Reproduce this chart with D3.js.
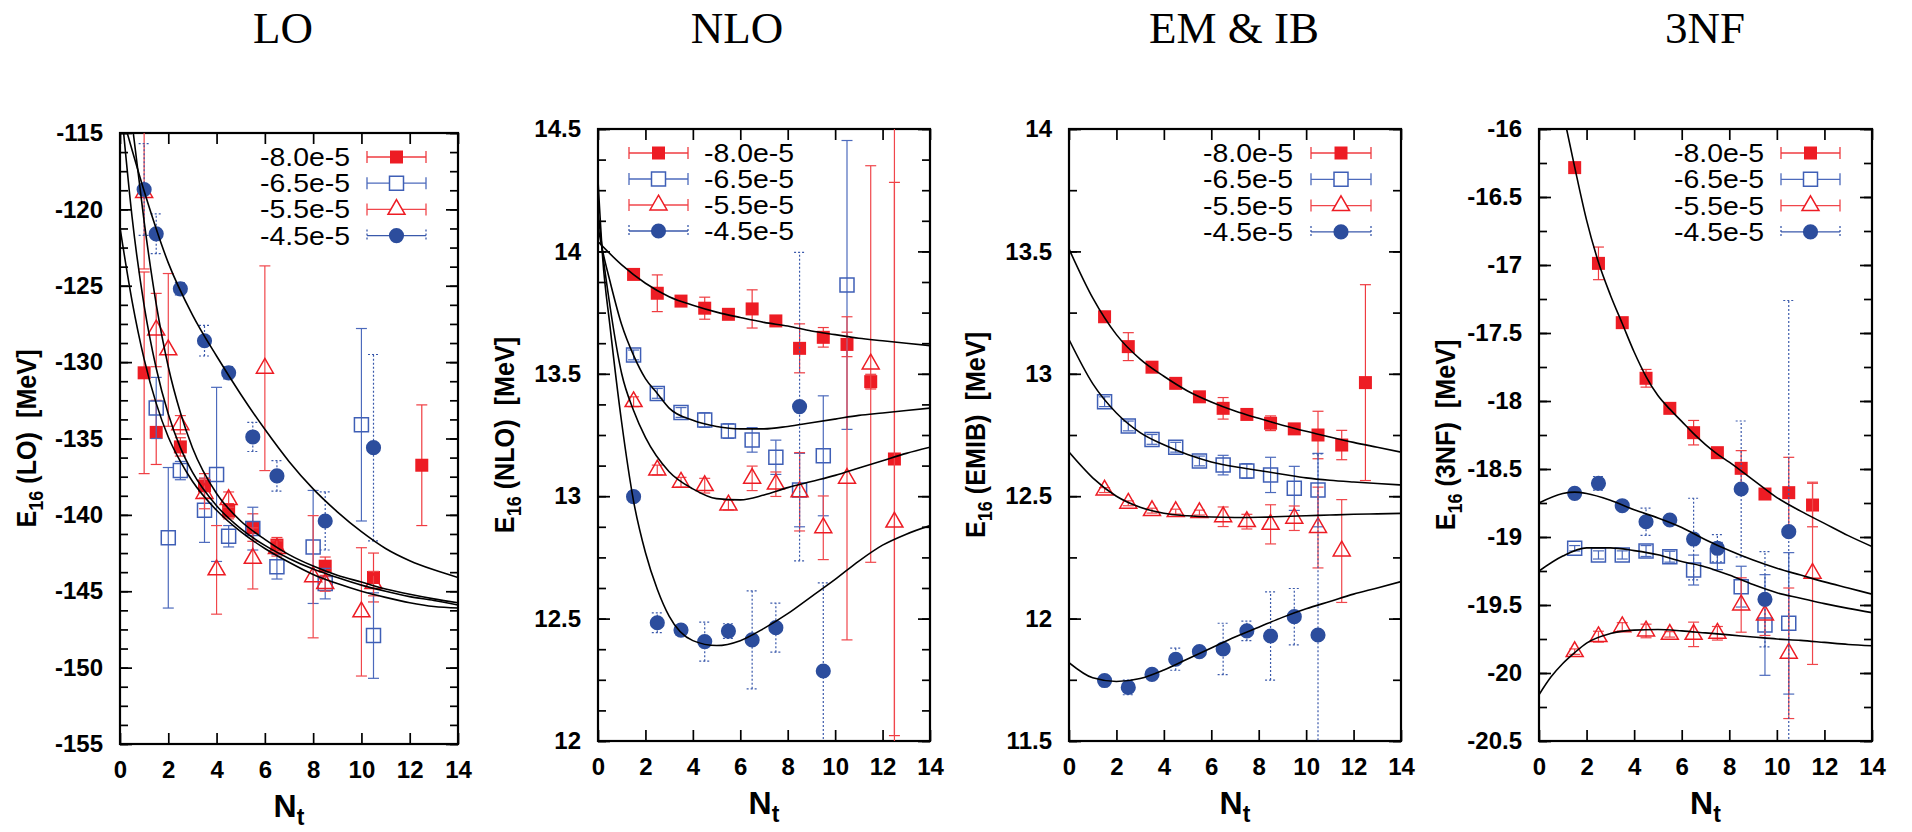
<!DOCTYPE html>
<html>
<head>
<meta charset="utf-8">
<script src="https://cdn.jsdelivr.net/npm/d3@7"></script>
<style>
    body { margin: 0; background: #fff; }
    svg { display: block; }
    text { white-space: pre; }
</style>
</head>
<body>
<div id="chart"></div>
<script>
// ---- data: [Nt, E16, error] ----
const legendLabels = ['-8.0e-5', '-6.5e-5', '-5.5e-5', '-4.5e-5'];
const panelTitles = ['LO', 'NLO', 'EM & IB', '3NF'];
const panelKeys = ['LO', 'NLO', 'EMIB', '3NF'];
const xTicks = [0, 2, 4, 6, 8, 10, 12, 14];
const loTicks = [-115, -120, -125, -130, -135, -140, -145, -150, -155];
const nloTicks = [14.5, 14, 13.5, 13, 12.5, 12];
const emTicks = [14, 13.5, 13, 12.5, 12, 11.5];
const tnTicks = [-16, -16.5, -17, -17.5, -18, -18.5, -19, -19.5, -20, -20.5];

// LO
const loSq80 = [[1.0,-130.7,6.6],[1.5,-134.6,2.1],[2.5,-135.55,0.6],[3.5,-138.1,0.8],[4.5,-139.76,0.5],[5.5,-140.83,0.9],[6.5,-141.98,0.5],[8.5,-143.36,0.6],[10.5,-144.1,1.6],[12.5,-136.75,3.95]];
const loSq65 = [[1.5,-133.0,2.0],[2.0,-141.5,4.6],[2.5,-137.1,0.6],[3.5,-139.7,2.1],[4.0,-137.35,5.7],[4.5,-141.4,0.7],[5.5,-140.9,1.4],[6.5,-143.4,0.8],[8.0,-142.1,3.7],[8.5,-144.5,1.0],[10.0,-134.1,6.3],[10.5,-147.9,2.8]];
const loTr55 = [[1.0,-118.9,5.0],[1.5,-127.9,2.4],[2.0,-129.2,5.0],[2.5,-134.1,0.6],[3.5,-138.6,1.0],[4.0,-143.6,2.9],[4.5,-139.0,0.5],[5.5,-142.85,2.0],[6.0,-130.4,6.7],[6.5,-142.2,0.5],[8.0,-144.05,4.0],[8.5,-144.5,0.5],[10.0,-146.35,4.2],[10.5,-144.5,0.8]];
const loCi45 = [[1.0,-118.7,3.0],[1.5,-121.6,1.3],[2.5,-125.2,0.4],[3.5,-128.6,1.0],[4.5,-130.7,0.4],[5.5,-134.9,0.95],[6.5,-137.45,1.0],[8.5,-140.4,1.9],[10.5,-135.6,6.1]];
const loFit1 = [[0.3,-115],[1,-118.8],[2,-123.5],[3,-126.9],[4,-129.6],[5,-132.1],[6,-134.4],[7,-136.5],[8,-138.3],[9,-139.8],[10,-141.1],[11,-142.2],[12,-143.0],[13,-143.6],[14,-144.1]];
const loFit2 = [[0,-121.2],[0.5,-126.0],[1,-129.8],[1.5,-132.7],[2,-134.9],[2.5,-136.5],[3,-137.8],[4,-139.7],[5,-141.1],[6,-142.2],[7,-143.1],[8,-143.9],[9,-144.5],[10,-145.0],[11,-145.4],[12,-145.75],[13,-146.0],[14,-146.1]];
const loFit3 = [[0.15,-115],[0.5,-120.5],[1,-126.3],[1.5,-130.4],[2,-133.4],[2.5,-135.6],[3,-137.2],[4,-139.4],[5,-140.9],[6,-142.0],[7,-142.85],[8,-143.55],[9,-144.1],[10,-144.6],[11,-145.0],[12,-145.35],[13,-145.6],[14,-145.9]];
const loFit4 = [[0.55,-115],[1,-120.8],[1.5,-126.2],[2,-130.3],[2.5,-133.3],[3,-135.6],[4,-138.6],[5,-140.4],[6,-141.6],[7,-142.6],[8,-143.35],[9,-143.95],[10,-144.4],[11,-144.85],[12,-145.2],[13,-145.5],[14,-145.75]];

// NLO
const nloSq80 = [[1.5,13.906,0.02],[2.5,13.829,0.075],[3.5,13.797,0.02],[4.5,13.768,0.045],[5.5,13.743,0.02],[6.5,13.765,0.078],[7.5,13.716,0.02],[8.5,13.604,0.1],[9.5,13.649,0.04],[10.5,13.62,0.05],[11.5,13.468,0.03],[12.5,13.152,1.13]];
const nloSq65 = [[1.5,13.577,0.02],[2.5,13.42,0.02],[3.5,13.342,0.02],[4.5,13.311,0.03],[5.5,13.266,0.03],[6.5,13.23,0.05],[7.5,13.159,0.07],[8.5,13.025,0.15],[9.5,13.165,0.245],[10.5,13.863,0.59]];
const nloTr55 = [[1.5,13.386,0.02],[2.5,13.107,0.02],[3.5,13.057,0.02],[4.5,13.043,0.03],[5.5,12.964,0.02],[6.5,13.073,0.05],[7.5,13.049,0.05],[8.5,13.018,0.16],[9.5,12.871,0.13],[10.5,13.073,0.66],[11.5,13.54,0.81],[12.5,12.894,1.7]];
const nloCi45 = [[1.5,12.998,0.02],[2.5,12.483,0.04],[3.5,12.453,0.02],[4.5,12.406,0.08],[5.5,12.449,0.03],[6.5,12.413,0.2],[7.5,12.463,0.1],[8.5,13.366,0.63],[9.5,12.286,0.36]];
const nloFit1 = [[0,14.04],[1,13.945],[2,13.87],[3,13.815],[4,13.78],[5,13.752],[6,13.73],[7,13.71],[8,13.695],[9,13.675],[10,13.66],[11,13.645],[12,13.635],[13,13.625],[14,13.615]];
const nloFit2 = [[0,14.1],[0.2,14.0],[0.5,13.88],[1,13.7],[1.5,13.575],[2,13.48],[2.5,13.42],[3,13.36],[4,13.31],[5,13.285],[6,13.275],[7,13.275],[8,13.285],[9,13.3],[10,13.315],[11,13.33],[12,13.34],[13,13.35],[14,13.36]];
const nloFit3 = [[0,14.16],[0.2,13.99],[0.5,13.78],[1,13.5],[1.5,13.35],[2,13.24],[3,13.1],[4,13.03],[5,12.99],[6,12.985],[7,13.005],[8,13.035],[9,13.06],[10,13.085],[11,13.115],[12,13.145],[13,13.175],[14,13.2]];
const nloFit4 = [[0,14.29],[0.2,13.97],[0.5,13.7],[1,13.3],[1.5,12.98],[2,12.77],[2.5,12.62],[3,12.51],[4,12.41],[5,12.39],[6,12.41],[7,12.46],[8,12.52],[9,12.59],[10,12.66],[11,12.735],[12,12.8],[13,12.845],[14,12.88]];

// EM & IB
const emSq80 = [[1.5,13.233,0.02],[2.5,13.111,0.057],[3.5,13.027,0.02],[4.5,12.961,0.02],[5.5,12.906,0.02],[6.5,12.859,0.044],[7.5,12.834,0.02],[8.5,12.798,0.03],[9.5,12.775,0.02],[10.5,12.75,0.097],[11.5,12.709,0.06],[12.5,12.964,0.4]];
const emSq65 = [[1.5,12.886,0.02],[2.5,12.787,0.02],[3.5,12.732,0.02],[4.5,12.7,0.02],[5.5,12.644,0.02],[6.5,12.627,0.04],[7.5,12.603,0.03],[8.5,12.587,0.072],[9.5,12.532,0.09],[10.5,12.525,0.15]];
const emTr55 = [[1.5,12.525,0.01],[2.5,12.471,0.01],[3.5,12.441,0.01],[4.5,12.437,0.01],[5.5,12.433,0.01],[6.5,12.416,0.04],[7.5,12.396,0.03],[8.5,12.385,0.08],[9.5,12.41,0.05],[10.5,12.372,0.165],[11.5,12.276,0.21]];
const emCi45 = [[1.5,11.747,0.01],[2.5,11.719,0.03],[3.5,11.772,0.01],[4.5,11.834,0.045],[5.5,11.865,0.01],[6.5,11.876,0.105],[7.5,11.95,0.04],[8.5,11.929,0.18],[9.5,12.008,0.115],[10.5,11.933,0.74]];
const emFit1 = [[0,13.51],[1,13.31],[2,13.16],[3,13.06],[4,12.99],[5,12.93],[6,12.885],[7,12.848],[8,12.818],[9,12.79],[10,12.765],[11,12.742],[12,12.72],[13,12.7],[14,12.68]];
const emFit2 = [[0,13.14],[1,12.96],[2,12.84],[3,12.76],[4,12.71],[5,12.67],[6,12.64],[7,12.62],[8,12.605],[9,12.59],[10,12.575],[11,12.565],[12,12.558],[13,12.552],[14,12.546]];
const emFit3 = [[0,12.68],[1,12.575],[2,12.5],[3,12.455],[4,12.43],[5,12.42],[6,12.415],[7,12.413],[8,12.414],[9,12.417],[10,12.42],[11,12.423],[12,12.426],[13,12.428],[14,12.43]];
const emFit4 = [[0,11.82],[1,11.758],[2,11.743],[3,11.755],[4,11.79],[5,11.835],[6,11.88],[7,11.925],[8,11.965],[9,12.005],[10,12.04],[11,12.07],[12,12.1],[13,12.125],[14,12.151]];

// 3NF
const tnSq80 = [[1.5,-16.284,0.03],[2.5,-16.988,0.12],[3.5,-17.424,0.02],[4.5,-17.833,0.065],[5.5,-18.054,0.02],[6.5,-18.233,0.09],[7.5,-18.38,0.02],[8.5,-18.495,0.13],[9.5,-18.684,0.03],[10.5,-18.674,0.26],[11.5,-18.765,0.16]];
const tnSq65 = [[1.5,-19.083,0.02],[2.5,-19.132,0.03],[3.5,-19.132,0.03],[4.5,-19.103,0.04],[5.5,-19.145,0.04],[6.5,-19.243,0.11],[7.5,-19.14,0.1],[8.5,-19.365,0.15],[9.5,-19.647,0.37],[10.5,-19.635,0.52]];
const tnTr55 = [[1.5,-19.843,0.02],[2.5,-19.733,0.04],[3.5,-19.66,0.03],[4.5,-19.691,0.05],[5.5,-19.716,0.02],[6.5,-19.716,0.09],[7.5,-19.708,0.05],[8.5,-19.5,0.2],[9.5,-19.574,0.15],[10.5,-19.855,0.48],[11.5,-19.267,0.67]];
const tnCi45 = [[1.5,-18.679,0.02],[2.5,-18.605,0.05],[3.5,-18.77,0.02],[4.5,-18.888,0.1],[5.5,-18.875,0.02],[6.5,-19.015,0.3],[7.5,-19.083,0.1],[8.5,-18.647,0.5],[9.5,-19.458,0.35],[10.5,-18.961,1.7]];
const tnFit1 = [[1.16,-16.0],[1.5,-16.28],[2,-16.67],[2.5,-16.98],[3,-17.22],[3.5,-17.43],[4,-17.64],[4.5,-17.82],[5,-17.96],[5.5,-18.06],[6,-18.15],[6.5,-18.24],[7,-18.32],[7.5,-18.39],[8,-18.45],[9,-18.58],[10,-18.71],[11,-18.81],[12,-18.9],[13,-18.99],[14,-19.07]];
const tnFit2 = [[0,-18.75],[1,-18.68],[1.5,-18.67],[2,-18.68],[3,-18.73],[4,-18.8],[5,-18.86],[6,-18.93],[7,-19.02],[8,-19.1],[9,-19.17],[10,-19.23],[11,-19.28],[12,-19.33],[13,-19.375],[14,-19.42]];
const tnFit3 = [[0,-19.25],[1,-19.14],[2,-19.08],[3,-19.08],[4,-19.1],[5,-19.13],[6,-19.18],[7,-19.22],[8,-19.28],[9,-19.35],[10,-19.41],[11,-19.45],[12,-19.49],[13,-19.525],[14,-19.556]];
const tnFit4 = [[0,-20.16],[0.5,-20.03],[1,-19.93],[1.5,-19.85],[2,-19.78],[3,-19.71],[4,-19.685],[5,-19.68],[6,-19.69],[7,-19.705],[8,-19.72],[9,-19.735],[10,-19.75],[11,-19.76],[12,-19.775],[13,-19.79],[14,-19.8]];

// ---- styles, one per series (legend order) ----
const RED = '#ed1c24', BLUE = '#2c4d9d';
const seriesStyle = [
    { symbol: d3.symbolSquare,   size: 169, fill: RED,  stroke: 'none',    bar: '#ef3b40', dash: null },
    { symbol: d3.symbolSquare,   size: 196, fill: 'none', stroke: '#3f5fb6', bar: '#4c6abc', dash: null },
    { symbol: d3.symbolTriangle, size: 125, fill: 'none', stroke: RED,    bar: '#f0464b', dash: null },
    { symbol: d3.symbolCircle,   size: 180, fill: BLUE, stroke: 'none',    bar: '#3a59ab', dash: '2,2' }
];
const SANS = "'Liberation Sans', Arial, Helvetica, sans-serif";

// ---- layout, per panel ----
const panels = [
    { box: { l: 120,  t: 133, r: 458,  b: 744 }, titleX: 283,  yDomain: [-155, -115], yTicks: loTicks,  yMinor: 1.25,
      series: [loSq80, loSq65, loTr55, loCi45], fits: [loFit1, loFit2, loFit3, loFit4],
      legend: { anchor: 'end', textX: 350, lineX: [367, 426], y0: 157, step: 26.2 } },
    { box: { l: 598,  t: 129, r: 930,  b: 741 }, titleX: 737,  yDomain: [12, 14.5], yTicks: nloTicks, yMinor: 0.125,
      series: [nloSq80, nloSq65, nloTr55, nloCi45], fits: [nloFit1, nloFit2, nloFit3, nloFit4],
      legend: { anchor: 'start', textX: 704, lineX: [629, 688], y0: 153, step: 26 } },
    { box: { l: 1069, t: 129, r: 1401, b: 741 }, titleX: 1234, yDomain: [11.5, 14], yTicks: emTicks,  yMinor: 0.25,
      series: [emSq80, emSq65, emTr55, emCi45], fits: [emFit1, emFit2, emFit3, emFit4],
      legend: { anchor: 'end', textX: 1293, lineX: [1311, 1371], y0: 153, step: 26.3 } },
    { box: { l: 1539, t: 129, r: 1872, b: 741 }, titleX: 1705, yDomain: [-20.5, -16], yTicks: tnTicks, yMinor: 0.25,
      series: [tnSq80, tnSq65, tnTr55, tnCi45], fits: [tnFit1, tnFit2, tnFit3, tnFit4],
      legend: { anchor: 'end', textX: 1764, lineX: [1781, 1840], y0: 153, step: 26.3 } }
];

class EnergyPanel
{
    // Attributes
    box; svg; chart; scaleX; scaleY; id;

    constructor(svg, box, id) {
        this.svg = svg;
        this.box = box;
        this.id = id;
        this.chart = svg.append('g')
            .attr('transform', `translate(${box.l}, ${box.t})`);
        // clip data to the frame, like gnuplot does
        svg.append('clipPath').attr('id', `clip${id}`)
            .append('rect')
            .attr('x', box.l).attr('y', box.t)
            .attr('width', box.r - box.l).attr('height', box.b - box.t);
    }

    #updateScales(yDomain) {
        this.scaleX = d3.scaleLinear([0, 14], [0, this.box.r - this.box.l]);
        this.scaleY = d3.scaleLinear(yDomain, [this.box.b - this.box.t, 0]);
    }

    #updateAxes(cfg) {
        let w = this.box.r - this.box.l,
            h = this.box.b - this.box.t;
        let minor = d3.range(cfg.yDomain[0], cfg.yDomain[1] + 1e-9, cfg.yMinor);
        let style = g => {
            g.select('.domain').remove();
            g.selectAll('line').attr('stroke-width', 1.7);
            g.selectAll('text')
                .attr('font-family', SANS).attr('font-size', 24).attr('font-weight', 'bold').attr('fill', '#000');
        };
        let fmt = d => String(d);   // plain hyphen minus

        this.chart.append('g').call(d3.axisLeft(this.scaleY).tickValues(minor).tickSize(-8).tickFormat('')).call(style);
        this.chart.append('g').call(d3.axisLeft(this.scaleY).tickValues(cfg.yTicks).tickSize(-12).tickPadding(17).tickFormat(fmt)).call(style);
        this.chart.append('g').attr('transform', `translate(${w},0)`)
            .call(d3.axisRight(this.scaleY).tickValues(minor).tickSize(-8).tickFormat('')).call(style);
        this.chart.append('g').attr('transform', `translate(${w},0)`)
            .call(d3.axisRight(this.scaleY).tickValues(cfg.yTicks).tickSize(-12).tickFormat('')).call(style);
        this.chart.append('g').attr('transform', `translate(0,${h})`)
            .call(d3.axisBottom(this.scaleX).tickValues(xTicks).tickSize(-11).tickPadding(17).tickFormat(fmt)).call(style);
        this.chart.append('g')
            .call(d3.axisTop(this.scaleX).tickValues(xTicks).tickSize(-11).tickFormat('')).call(style);

        // frame
        this.chart.append('rect')
            .attr('width', w).attr('height', h)
            .attr('fill', 'none').attr('stroke', '#000').attr('stroke-width', 2.2);
    }

    #updateData(cfg) {
        let sx = this.scaleX, sy = this.scaleY;
        let plot = this.svg.append('g')
            .attr('clip-path', `url(#clip${this.id})`)
            .append('g')
            .attr('transform', `translate(${this.box.l}, ${this.box.t})`);

        cfg.series.forEach((data, i) => {
            let st = seriesStyle[i];
            let g = plot.append('g');
            // error bars
            let bars = g.selectAll('g.err').data(data).join('g').classed('err', true)
                .attr('stroke', st.bar).attr('stroke-width', 1.2)
                .attr('stroke-dasharray', st.dash);
            bars.append('line')
                .attr('x1', d => sx(d[0])).attr('x2', d => sx(d[0]))
                .attr('y1', d => sy(d[1] - d[2])).attr('y2', d => sy(d[1] + d[2]));
            [-1, 1].forEach(s => bars.append('line')
                .attr('x1', d => sx(d[0]) - 5.5).attr('x2', d => sx(d[0]) + 5.5)
                .attr('y1', d => sy(d[1] + s * d[2])).attr('y2', d => sy(d[1] + s * d[2]))
                .attr('stroke-dasharray', null));
            // markers
            g.selectAll('path.pt').data(data).join('path').classed('pt', true)
                .attr('transform', d => `translate(${sx(d[0])}, ${sy(d[1])})`)
                .attr('d', d3.symbol(st.symbol, st.size)())
                .attr('fill', st.fill).attr('stroke', st.stroke).attr('stroke-width', 1.5);
        });

        // fit curves
        let line = d3.line().x(d => sx(d[0])).y(d => sy(d[1])).curve(d3.curveMonotoneX);
        plot.selectAll('path.fit').data(cfg.fits).join('path').classed('fit', true)
            .attr('d', line)
            .attr('fill', 'none').attr('stroke', '#000').attr('stroke-width', 1.6);
    }

    #updateLegend(lg) {
        legendLabels.forEach((label, i) => {
            let st = seriesStyle[i];
            let y = lg.y0 + i * lg.step;
            let g = this.svg.append('g');
            g.append('text')
                .attr('x', lg.textX).attr('y', y + 9)
                .attr('text-anchor', lg.anchor)
                .attr('font-family', SANS).attr('font-size', 25)
                .attr('textLength', 90).attr('lengthAdjust', 'spacingAndGlyphs')
                .text(label);
            let [x0, x1] = lg.lineX;
            g.append('line').attr('x1', x0).attr('x2', x1).attr('y1', y).attr('y2', y)
                .attr('stroke', st.bar).attr('stroke-width', 1.3);
            [x0, x1].forEach(x => g.append('line')
                .attr('x1', x).attr('x2', x).attr('y1', y - 6).attr('y2', y + 6)
                .attr('stroke', st.bar).attr('stroke-width', 1.3).attr('stroke-dasharray', st.dash));
            g.append('path')
                .attr('transform', `translate(${(x0 + x1) / 2}, ${y})`)
                .attr('d', d3.symbol(st.symbol, st.size)())
                .attr('fill', st.fill === 'none' ? '#fff' : st.fill)
                .attr('stroke', st.stroke).attr('stroke-width', 1.5);
        });
    }

    #updateLabels(title, key, titleX) {
        let b = this.box;
        this.svg.append('text')
            .attr('x', titleX).attr('y', 43)
            .attr('text-anchor', 'middle')
            .attr('font-family', "'Liberation Serif', 'Times New Roman', serif").attr('font-size', 45)
            .text(title);

        // rotated y label, squeezed a little along its length
        let yl = this.svg.append('text')
            .attr('transform', `translate(${b.l - 84}, ${(b.t + b.b) / 2}) rotate(-90) scale(0.9, 1)`)
            .attr('text-anchor', 'middle')
            .attr('font-family', SANS).attr('font-size', 28).attr('font-weight', 'bold');
        yl.append('tspan').text('E');
        yl.append('tspan').attr('dy', 7).attr('font-size', 20).text('16');
        yl.append('tspan').attr('dy', -7).text(` (${key})  [MeV]`);

        let xl = this.svg.append('text')
            .attr('x', (b.l + b.r) / 2).attr('y', b.b + 73)
            .attr('text-anchor', 'middle')
            .attr('font-family', SANS).attr('font-size', 32).attr('font-weight', 'bold');
        xl.append('tspan').text('N');
        xl.append('tspan').attr('dy', 8).attr('font-size', 23).text('t');
    }

    // Public API
    render(cfg, title, key) {
        this.#updateScales(cfg.yDomain);
        this.#updateData(cfg);
        this.#updateAxes(cfg);
        this.#updateLegend(cfg.legend);
        this.#updateLabels(title, key, cfg.titleX);
        return this;
    }
}

const svg = d3.select('#chart').append('svg')
    .attr('width', 1912).attr('height', 832)
    .style('background', '#fff');

panels.forEach((p, i) => new EnergyPanel(svg, p.box, i).render(p, panelTitles[i], panelKeys[i]));
</script>
</body>
</html>
